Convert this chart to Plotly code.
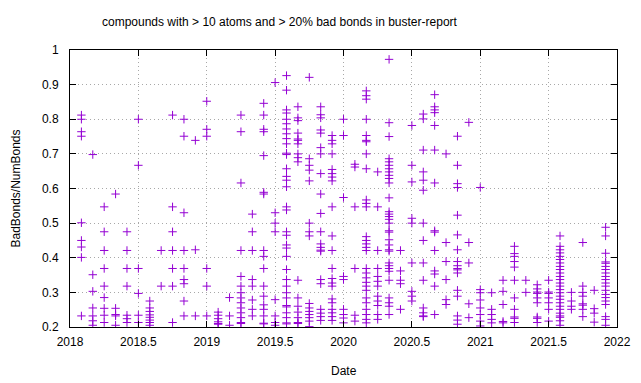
import plotly.graph_objects as go

# month index (months after Jan 2018) for each column of points
month_index = list(range(1, 48))

# BadBonds/NumBonds values per month column
ratios_by_month = [
    [0.812, 0.800, 0.764, 0.751, 0.501, 0.450, 0.431, 0.401, 0.232],
    [0.698, 0.351, 0.303, 0.255, 0.232, 0.218, 0.205],
    [0.547, 0.475, 0.421, 0.369, 0.318, 0.285, 0.254, 0.234, 0.213],
    [0.584, 0.254, 0.236, 0.232, 0.205],
    [0.475, 0.421, 0.369, 0.318, 0.234, 0.224, 0.213],
    [0.800, 0.667, 0.369, 0.297, 0.234, 0.213],
    [0.275, 0.255, 0.245, 0.235, 0.228, 0.220, 0.213, 0.205],
    [0.421, 0.318],
    [0.812, 0.547, 0.475, 0.421, 0.369, 0.318, 0.213],
    [0.800, 0.751, 0.530, 0.421, 0.369, 0.337, 0.325, 0.275, 0.232],
    [0.739, 0.423, 0.232],
    [0.852, 0.771, 0.751, 0.369, 0.318, 0.232],
    [0.243, 0.234, 0.224, 0.215, 0.210, 0.208],
    [0.285, 0.232, 0.205],
    [0.812, 0.764, 0.616, 0.421, 0.346, 0.318, 0.299, 0.284, 0.270, 0.255, 0.241, 0.227, 0.213, 0.210],
    [0.526, 0.475, 0.421, 0.337, 0.318, 0.278, 0.251, 0.232],
    [0.846, 0.812, 0.771, 0.764, 0.695, 0.589, 0.584, 0.421, 0.404, 0.369, 0.318, 0.289, 0.264, 0.251, 0.232, 0.211, 0.209],
    [0.906, 0.530, 0.500, 0.475, 0.279, 0.232, 0.213, 0.205],
    [0.926, 0.884, 0.827, 0.818, 0.800, 0.787, 0.772, 0.758, 0.744, 0.729, 0.702, 0.698, 0.657, 0.635, 0.624, 0.605,
     0.547, 0.538, 0.475, 0.465, 0.437, 0.428, 0.404, 0.366, 0.337, 0.318, 0.299, 0.284, 0.262, 0.258, 0.241, 0.227,
     0.212, 0.209],
    [0.836, 0.804, 0.796, 0.760, 0.743, 0.739, 0.729, 0.700, 0.689, 0.677, 0.335, 0.284, 0.260, 0.243, 0.227, 0.213, 0.210],
    [0.921, 0.686, 0.667, 0.653, 0.622, 0.500, 0.475, 0.463, 0.268, 0.255, 0.245, 0.236, 0.227, 0.217, 0.201],
    [0.836, 0.813, 0.804, 0.769, 0.760, 0.718, 0.700, 0.643, 0.584, 0.528, 0.475, 0.440, 0.430, 0.422, 0.419, 0.337,
     0.325, 0.251, 0.240, 0.230, 0.219],
    [0.753, 0.739, 0.729, 0.700, 0.655, 0.643, 0.633, 0.622, 0.547, 0.463, 0.421, 0.369, 0.340, 0.327, 0.318, 0.281,
     0.270, 0.251, 0.241, 0.230, 0.219],
    [0.800, 0.753, 0.574, 0.346, 0.337, 0.251, 0.236, 0.226, 0.212],
    [0.670, 0.662, 0.547, 0.369, 0.234, 0.217],
    [0.882, 0.868, 0.858, 0.800, 0.753, 0.739, 0.735, 0.700, 0.657, 0.567, 0.557, 0.547, 0.461, 0.450, 0.440, 0.430,
     0.421, 0.369, 0.356, 0.342, 0.329, 0.318, 0.306, 0.284, 0.270, 0.251, 0.236, 0.222, 0.212],
    [0.648, 0.547, 0.421, 0.369, 0.346, 0.332, 0.318, 0.289, 0.275, 0.262, 0.236, 0.222],
    [0.973, 0.790, 0.750, 0.686, 0.677, 0.667, 0.657, 0.648, 0.638, 0.629, 0.616, 0.573, 0.533, 0.526, 0.519, 0.511,
     0.500, 0.478, 0.474, 0.452, 0.437, 0.423, 0.419, 0.385, 0.377, 0.369, 0.361, 0.335, 0.284, 0.270, 0.260, 0.236],
    [0.421, 0.362, 0.335, 0.325, 0.251],
    [0.782, 0.667, 0.619, 0.514, 0.500, 0.385, 0.303, 0.289, 0.275],
    [0.815, 0.801, 0.711, 0.648, 0.624, 0.595, 0.500, 0.450, 0.385, 0.335, 0.255, 0.241, 0.232, 0.230],
    [0.871, 0.836, 0.827, 0.819, 0.782, 0.711, 0.616, 0.478, 0.474, 0.421, 0.362, 0.353, 0.318, 0.236],
    [0.700, 0.444, 0.389, 0.337, 0.279, 0.265],
    [0.751, 0.667, 0.614, 0.603, 0.523, 0.466, 0.423, 0.389, 0.377, 0.369, 0.365, 0.356, 0.306, 0.289, 0.232, 0.220, 0.208],
    [0.791, 0.444, 0.385, 0.267, 0.227],
    [0.603, 0.308, 0.299, 0.278, 0.255, 0.236, 0.217, 0.203],
    [0.299, 0.251, 0.236, 0.222, 0.212],
    [0.335, 0.303, 0.265, 0.216, 0.212],
    [0.433, 0.412, 0.404, 0.389, 0.373, 0.335, 0.284, 0.251, 0.229, 0.225, 0.213],
    [0.335, 0.300],
    [0.322, 0.310, 0.301, 0.297, 0.284, 0.270, 0.229, 0.225, 0.213],
    [0.335, 0.301, 0.297, 0.284, 0.270, 0.251, 0.217],
    [0.463, 0.433, 0.423, 0.414, 0.404, 0.395, 0.385, 0.375, 0.366, 0.356, 0.346, 0.337, 0.327, 0.318, 0.308, 0.299,
     0.289, 0.280, 0.270, 0.260, 0.251, 0.240, 0.232, 0.228, 0.218, 0.205],
    [0.300, 0.275, 0.260, 0.251],
    [0.444, 0.318, 0.300, 0.289, 0.267, 0.263, 0.251, 0.230],
    [0.306, 0.253, 0.240, 0.214],
    [0.488, 0.463, 0.413, 0.388, 0.384, 0.375, 0.366, 0.356, 0.346, 0.337, 0.327, 0.318, 0.306, 0.294, 0.285, 0.275,
     0.265, 0.230, 0.222, 0.205],
]

x_tick_vals = [2018, 2018.5, 2019, 2019.5, 2020, 2020.5, 2021, 2021.5, 2022]
x_tick_text = ["2018", "2018.5", "2019", "2019.5", "2020", "2020.5", "2021", "2021.5", "2022"]
y_tick_vals = [0.2, 0.3, 0.4, 0.5, 0.6, 0.7, 0.8, 0.9, 1.0]
y_tick_text = ["0.2", "0.3", "0.4", "0.5", "0.6", "0.7", "0.8", "0.9", "1"]

xs, ys = [], []
for m, vals in zip(month_index, ratios_by_month):
    for v in vals:
        xs.append(2018 + m / 12)
        ys.append(v)

FONT = "Liberation Sans"
TXT = dict(family=FONT, size=12, color="black")

fig = go.Figure()
fig.add_trace(go.Scatter(
    x=xs, y=ys, mode="markers",
    marker=dict(symbol="cross-thin", size=6, color="#9400d3",
                line=dict(color="#9400d3", width=1)),
    showlegend=False,
))

axis_common = dict(
    showline=True, linecolor="black", linewidth=1, mirror="ticks",
    ticks="inside", ticklen=6, tickcolor="black",
    showgrid=True, gridcolor="#a8a8a8", griddash="1px,3px", gridwidth=1,
    zeroline=False, tickfont=TXT, automargin=False,
)

fig.update_layout(
    template="none",
    width=641, height=383,
    margin=dict(l=70, r=24, t=50, b=56),
    paper_bgcolor="white", plot_bgcolor="white",
    xaxis=dict(range=[2018, 2022], tickvals=x_tick_vals, ticktext=x_tick_text,
               ticklabelstandoff=4, **axis_common),
    yaxis=dict(range=[0.2, 1.0], tickvals=y_tick_vals, ticktext=y_tick_text,
               ticklabelstandoff=8, **axis_common),
    annotations=[
        dict(text="compounds with > 10 atoms and > 20% bad bonds in buster-report",
             xref="paper", yref="paper", x=0.384, y=1.101, xanchor="center", yanchor="middle",
             showarrow=False, font=TXT),
        dict(text="Date", xref="paper", yref="paper", x=0.5, y=-0.16,
             xanchor="center", yanchor="middle", showarrow=False, font=TXT),
        dict(text="BadBonds/NumBonds", xref="paper", yref="paper", x=-0.1005, y=0.5,
             xanchor="center", yanchor="middle", textangle=-90, showarrow=False, font=TXT),
    ],
)

fig.write_html("out.html", post_script="document.body.style.margin='0px';",
               config={"displayModeBar": False})
